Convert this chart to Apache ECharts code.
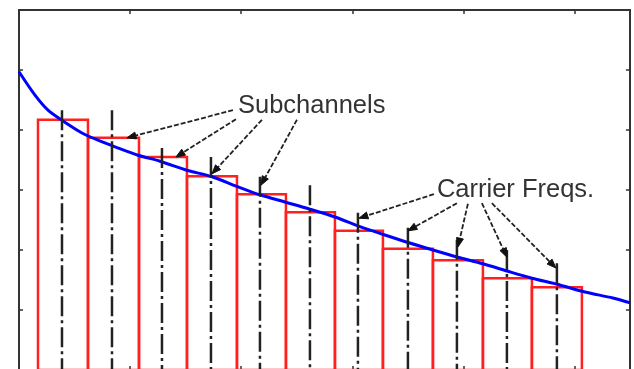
<!DOCTYPE html>
<html>
<head>
<meta charset="utf-8">
<script src="https://cdn.jsdelivr.net/npm/echarts@6/dist/echarts.min.js"></script>
<style>
html,body{margin:0;padding:0;background:#fff;}
#chart{width:634px;height:369px;}
</style>
</head>
<body>
<div id="chart"></div>
<script>
// ---- data (axis units) ----
const subchannelEdges = [0.171, 0.621, 1.080, 1.512, 1.962, 2.403, 2.844, 3.276, 3.726, 4.176, 4.617, 5.067];
const subchannelLevels = [4.17, 3.87, 3.55, 3.23, 2.93, 2.63, 2.32, 2.02, 1.83, 1.53, 1.38];
const carrierFreqs = [0.387, 0.837, 1.287, 1.728, 2.169, 2.619, 3.051, 3.501, 3.942, 4.392, 4.842];
const carrierHeights = [4.33, 4.33, 3.70, 3.55, 3.22, 3.08, 2.62, 2.37, 2.17, 2.00, 1.78];
const curveX = [0, 0.144, 0.261, 0.396, 0.567, 0.711, 0.864, 1.071, 1.269, 1.512, 1.737, 1.962, 2.169, 2.394, 2.619, 2.844, 3.069, 3.294, 3.51, 3.726, 3.951, 4.176, 4.392, 4.617, 4.842, 5.094, 5.346, 5.5];
const curveY = [4.97, 4.58, 4.33, 4.15, 3.95, 3.83, 3.72, 3.58, 3.48, 3.33, 3.22, 3.06, 2.92, 2.80, 2.68, 2.55, 2.39, 2.25, 2.12, 2.00, 1.88, 1.77, 1.65, 1.53, 1.43, 1.30, 1.20, 1.12];
const xTickValues = [0, 1, 2, 3, 4, 5];
const yTickValues = [0, 1, 2, 3, 4, 5, 6];

// annotations
const annotationLabels = ['Subchannels', 'Carrier Freqs.'];
const labelX = [1.971, 3.762];
const labelY = [4.40, 3.00];
const arrowStartX = [1.926, 1.953, 2.187, 2.502, 3.735, 3.942, 4.041, 4.167, 4.257];
const arrowStartY = [4.33, 4.18, 4.17, 4.17, 2.93, 2.78, 2.77, 2.78, 2.78];
const arrowTipX = [0.972, 1.413, 1.737, 2.178, 3.060, 3.501, 3.951, 4.392, 4.833];
const arrowTipY = [3.87, 3.55, 3.27, 3.08, 2.53, 2.32, 2.05, 1.88, 1.70];

const chart = echarts.init(document.getElementById('chart'), null, {renderer: 'canvas'});

const frameLine = {show: true, onZero: false, lineStyle: {color: '#333', width: 2}};
const frameTick = {show: true, inside: true, length: 4, lineStyle: {color: '#333', width: 1.5}};

const barData = subchannelLevels.map((v, i) => [subchannelEdges[i], subchannelEdges[i + 1], v]);
const carrierData = carrierFreqs.map((f, i) => [f, carrierHeights[i]]);
const curveData = curveX.map((x, i) => [x, curveY[i]]);
const arrowData = arrowStartX.map((x, i) => [x, arrowStartY[i], arrowTipX[i], arrowTipY[i]]);
const labelData = labelX.map((x, i) => [x, labelY[i]]);

function makeAxis(pos, max) {
  return {type: 'value', min: 0, max: max, interval: 1, position: pos,
          axisLine: frameLine, axisTick: frameTick, axisLabel: {show: false}, splitLine: {show: false}};
}

const option = {
  animation: false,
  backgroundColor: '#fff',
  grid: {left: 19, right: 4, top: 10, height: 360, containLabel: false, outerBoundsMode: 'none'},
  xAxis: [makeAxis('bottom', 5.5), makeAxis('top', 5.5)],
  yAxis: [makeAxis('left', 6), makeAxis('right', 6)],
  series: [
    {
      type: 'custom', name: 'subchannels', data: barData, z: 2,
      renderItem: function (params, api) {
        const p1 = api.coord([api.value(0), api.value(2)]);
        const p2 = api.coord([api.value(1), 0]);
        return {type: 'rect', shape: {x: p1[0], y: p1[1], width: p2[0] - p1[0], height: p2[1] - p1[1]},
                style: {fill: 'none', stroke: '#ff2020', lineWidth: 2.5}};
      }
    },
    {
      type: 'line', name: 'channel', data: curveData, smooth: 0.3, showSymbol: false, z: 3,
      lineStyle: {color: '#0000ff', width: 3}
    },
    {
      type: 'custom', name: 'carriers', data: carrierData, z: 4,
      renderItem: function (params, api) {
        const top = api.coord([api.value(0), api.value(1)]);
        const bot = api.coord([api.value(0), 0]);
        return {type: 'line', shape: {x1: top[0], y1: top[1], x2: bot[0], y2: bot[1]},
                style: {stroke: '#222', lineWidth: 2.5, lineDash: [20, 4, 3, 4]}};
      }
    },
    {
      type: 'custom', name: 'arrows', data: arrowData, z: 5,
      renderItem: function (params, api) {
        const s = api.coord([api.value(0), api.value(1)]);
        const t = api.coord([api.value(2), api.value(3)]);
        const dx = t[0] - s[0], dy = t[1] - s[1];
        const len = Math.sqrt(dx * dx + dy * dy);
        const ux = dx / len, uy = dy / len;
        const hl = 9, hw = 3.5;
        const bx = t[0] - ux * hl, by = t[1] - uy * hl;
        return {type: 'group', children: [
          {type: 'line', shape: {x1: s[0], y1: s[1], x2: bx, y2: by},
           style: {stroke: '#222', lineWidth: 1.8, lineDash: [5, 2]}},
          {type: 'polygon', shape: {points: [[t[0], t[1]], [bx - uy * hw, by + ux * hw], [bx + uy * hw, by - ux * hw]]},
           style: {fill: '#111', stroke: '#111', lineWidth: 1}}
        ]};
      }
    },
    {
      type: 'custom', name: 'labels', data: labelData, z: 6,
      renderItem: function (params, api) {
        const p = api.coord([api.value(0), api.value(1)]);
        return {type: 'text', x: p[0], y: p[1],
                style: {text: annotationLabels[params.dataIndex], fill: '#333',
                        font: '25.5px "Liberation Sans", Arial, sans-serif',
                        align: 'left', verticalAlign: 'middle'}};
      }
    }
  ]
};
chart.setOption(option);
</script>
</body>
</html>
